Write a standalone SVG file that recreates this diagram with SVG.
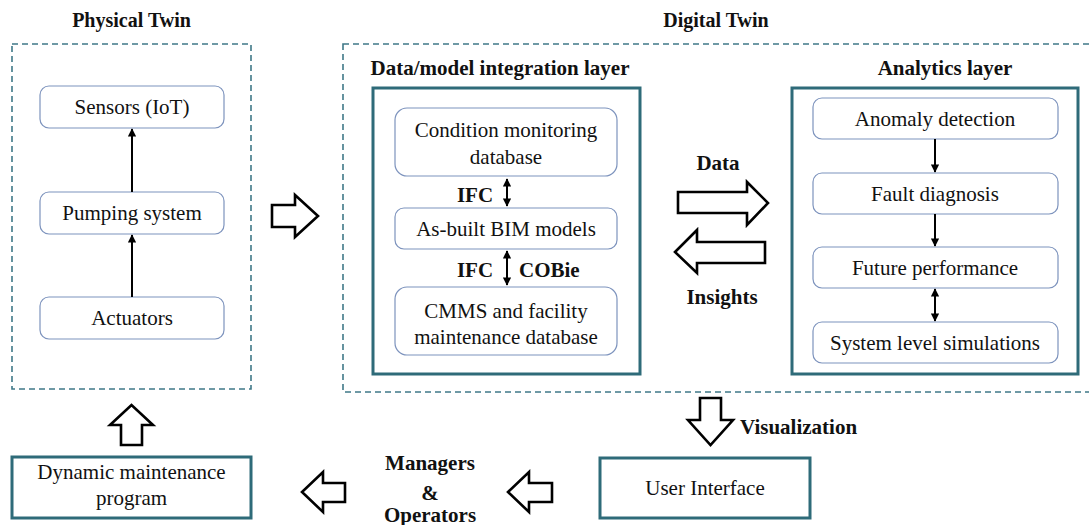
<svg xmlns="http://www.w3.org/2000/svg" width="1089" height="525" viewBox="0 0 1089 525" font-family="'Liberation Serif', 'Times New Roman', Times, serif">
  <defs>
    <marker id="head" viewBox="0 0 10 10" refX="9" refY="5" markerWidth="4.2" markerHeight="4.2" orient="auto-start-reverse">
      <path d="M0,0 L10,5 L0,10 z" fill="#000"/>
    </marker>
  </defs>
  <style>
    text { font-family: 'Liberation Serif', 'Times New Roman', Times, serif; fill: #111; }
    .t { font-size: 21px; text-anchor: middle; }
    .b { font-size: 21px; font-weight: bold; }
    .title { font-size: 20px; font-weight: bold; text-anchor: middle; }
    .dash { fill: none; stroke: #3f7888; stroke-width: 1.6; stroke-dasharray: 6 4; }
    .layer { fill: #fff; stroke: #2e6b79; stroke-width: 3; }
    .node { fill: #fff; stroke: #7d93bd; stroke-width: 1.2; }
    .link { stroke: #000; stroke-width: 2; fill: none; }
    .hollow { fill: #fff; stroke: #000; stroke-width: 2.6; stroke-linejoin: miter; }
  </style>
  <rect width="1089" height="525" fill="#fff"/>

  <!-- Section titles -->
  <text class="title" x="131.5" y="27">Physical Twin</text>
  <text class="title" x="716" y="27">Digital Twin</text>

  <!-- Dashed groupings -->
  <rect class="dash" x="12" y="44" width="239" height="345"/>
  <rect class="dash" x="343" y="44" width="760" height="348"/>

  <!-- Layer frames -->
  <text class="b" x="500" y="75" text-anchor="middle" font-size="21.5">Data/model integration layer</text>
  <rect class="layer" x="373" y="88" width="267" height="286"/>
  <text class="b" x="945" y="75" text-anchor="middle">Analytics layer</text>
  <rect class="layer" x="792" y="88" width="286" height="286"/>

  <!-- Physical twin nodes -->
  <g id="sensors">
    <rect class="node" x="40" y="86" width="184" height="42" rx="9"/>
    <text class="t" x="132" y="114">Sensors (IoT)</text>
  </g>
  <g id="pumping">
    <rect class="node" x="40" y="192" width="184" height="42" rx="9"/>
    <text class="t" x="132" y="220">Pumping system</text>
  </g>
  <g id="actuators">
    <rect class="node" x="40" y="297" width="184" height="42" rx="9"/>
    <text class="t" x="132" y="325">Actuators</text>
  </g>

  <!-- Integration layer nodes -->
  <g id="condition-db">
    <rect class="node" x="395" y="108" width="222" height="68" rx="12"/>
    <text class="t" x="506" y="137">Condition monitoring</text>
    <text class="t" x="506" y="164">database</text>
  </g>
  <g id="bim">
    <rect class="node" x="395" y="208" width="222" height="41" rx="9"/>
    <text class="t" x="506" y="236">As-built BIM models</text>
  </g>
  <g id="cmms">
    <rect class="node" x="395" y="287" width="222" height="68" rx="12"/>
    <text class="t" x="506" y="318">CMMS and facility</text>
    <text class="t" x="506" y="344">maintenance database</text>
  </g>

  <!-- Analytics layer nodes -->
  <g id="anomaly">
    <rect class="node" x="813" y="98" width="245" height="41" rx="9"/>
    <text class="t" x="935" y="126">Anomaly detection</text>
  </g>
  <g id="fault">
    <rect class="node" x="813" y="173" width="245" height="41" rx="9"/>
    <text class="t" x="935" y="201">Fault diagnosis</text>
  </g>
  <g id="future">
    <rect class="node" x="813" y="247" width="245" height="41" rx="9"/>
    <text class="t" x="935" y="275">Future performance</text>
  </g>
  <g id="simulations">
    <rect class="node" x="813" y="322" width="245" height="41" rx="9"/>
    <text class="t" x="935" y="350">System level simulations</text>
  </g>

  <!-- Bottom row nodes -->
  <g id="maintenance-program">
    <rect class="layer" x="12" y="457" width="239" height="61"/>
    <text class="t" x="131.5" y="479">Dynamic maintenance</text>
    <text class="t" x="131.5" y="505">program</text>
  </g>
  <g id="user-interface">
    <rect class="layer" x="600" y="458" width="210" height="60"/>
    <text class="t" x="705" y="495">User Interface</text>
  </g>
  <g id="managers">
    <text class="b" x="430" y="470" text-anchor="middle">Managers</text>
    <text class="b" x="430" y="500" text-anchor="middle">&amp;</text>
    <text class="b" x="430" y="522" text-anchor="middle">Operators</text>
  </g>

  <!-- Connectors -->
  <g id="connectors">
    <line class="link" x1="132" y1="192" x2="132" y2="129" marker-end="url(#head)"/>
    <line class="link" x1="132" y1="297" x2="132" y2="235" marker-end="url(#head)"/>

    <line class="link" x1="507" y1="179" x2="507" y2="206" marker-start="url(#head)" marker-end="url(#head)"/>
    <line class="link" x1="507" y1="251" x2="507" y2="285" marker-start="url(#head)" marker-end="url(#head)"/>
    <text class="b" x="475" y="202" text-anchor="middle">IFC</text>
    <text class="b" x="475" y="277" text-anchor="middle">IFC</text>
    <text class="b" x="519" y="277">COBie</text>

    <line class="link" x1="935" y1="139" x2="935" y2="172" marker-end="url(#head)"/>
    <line class="link" x1="935" y1="214" x2="935" y2="246" marker-end="url(#head)"/>
    <line class="link" x1="935" y1="289" x2="935" y2="321" marker-start="url(#head)" marker-end="url(#head)"/>

    <!-- physical to digital -->
    <path class="hollow" d="M272,205 H295 V195 L318,216 L295,237 V227 H272 Z"/>
    <!-- data / insights exchange -->
    <text class="b" x="718" y="170" text-anchor="middle">Data</text>
    <path class="hollow" d="M678,192 H747 V182 L768,203 L747,225 V213 H678 Z"/>
    <path class="hollow" d="M765,242 H697 V230 L675,252 L697,273 V263 H765 Z"/>
    <text class="b" x="722" y="304" text-anchor="middle">Insights</text>

    <!-- visualization -->
    <path class="hollow" d="M700,398 H721 V420 H733 L710.5,445 L688,420 H700 Z"/>
    <text class="b" x="740" y="434">Visualization</text>

    <!-- user interface to operators to program -->
    <path class="hollow" d="M552,483 H529 V472 L508,492 L529,512 V502 H552 Z"/>
    <path class="hollow" d="M345,483 H323 V472 L302,492 L323,512 V502 H345 Z"/>

    <!-- program back to physical twin -->
    <path class="hollow" d="M121,445 V425 H110 L131.5,405 L153,425 H142 V445 Z"/>
  </g>
</svg>
